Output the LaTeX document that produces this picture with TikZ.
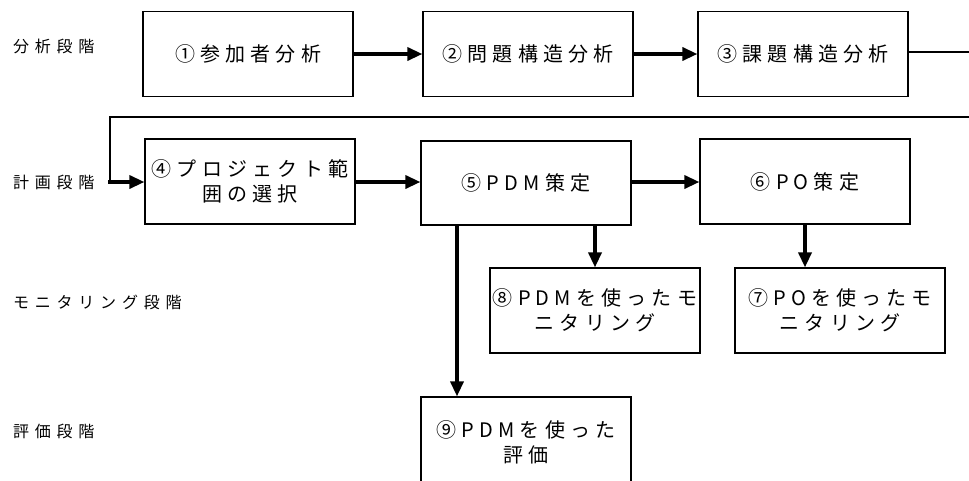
\documentclass[tikz,border=0pt]{standalone}
\usepackage{fontspec}
\setmainfont{Noto Sans CJK JP}
\usetikzlibrary{arrows.meta}
\newfontfamily\boxfont[LetterSpace=26]{Noto Sans CJK JP}
\newfontfamily\labfont[LetterSpace=36]{Noto Sans CJK JP}
\tikzset{
  stage/.style={draw=black, line width=1.2pt, minimum width=210pt, minimum height=85pt,
    align=center, inner sep=0pt, font=\boxfont\fontsize{20}{25}\selectfont},
  phase/.style={anchor=west, inner sep=0pt, font=\labfont\fontsize{16}{20}\selectfont},
  heavyarrow/.style={line width=3.4pt, -{Triangle[length=15pt,width=13pt]}},
  thinline/.style={line width=1.2pt}
}
\begin{document}
\begin{tikzpicture}[x=1pt,y=-1pt]
\useasboundingbox (0,0) rectangle (969,480);
\clip (0,0) rectangle (969,480);
% phase labels
\node[phase] (l1) at (13,46) {分析段階};
\node[phase] (l2) at (13,182) {計画段階};
\node[phase] (l3) at (13,302) {モニタリング段階};
\node[phase] (l4) at (13,431) {評価段階};
% boxes
\node[stage] (b1) at (248,54) {①参加者分析};
\node[stage] (b2) at (528,54) {②問題構造分析};
\node[stage] (b3) at (803,54) {③課題構造分析};
\node[stage] (b4) at (250,181.5) {④プロジェクト範\\囲の選択};
\node[stage, minimum height=84pt] (b5) at (526,183) {⑤PDM策定};
\node[stage] (b6) at (805,181.5) {⑥PO策定};
\node[stage] (b8) at (595,310.5) {⑧PDMを使ったモ\\ニタリング};
\node[stage] (b7) at (840,310.5) {⑦POを使ったモ\\ニタリング};
\node[stage, minimum height=90pt] (b9) at (526,442) {⑨PDMを使った\\評価};
% coordinates
\coordinate (r1) at (969,52);
\coordinate (r2) at (969,117);
\coordinate (k1) at (110,117);
\coordinate (k2) at (110,182);
\coordinate (k3) at (108,182);
\coordinate (d1) at (457,225);
% connectors
\draw[heavyarrow] (b1) -- (b2);
\draw[heavyarrow] (b2) -- (b3);
\draw[thinline] (b3.east |- r1) -- (r1);
\draw[thinline] (r2) -- (k1) -- (k2);
\draw[heavyarrow] (k3) -- (b4.west |- k3);
\draw[heavyarrow] (b4.east |- k3) -- (b5.west |- k3);
\draw[heavyarrow] (b5.east |- k3) -- (b6.west |- k3);
\draw[heavyarrow] (b5.south -| b8.north) -- (b8.north);
\draw[heavyarrow] (b6.south) -- (b6.south |- b7.north);
\draw[heavyarrow] (d1) -- (d1 |- b9.north);
\end{tikzpicture}
\end{document}
